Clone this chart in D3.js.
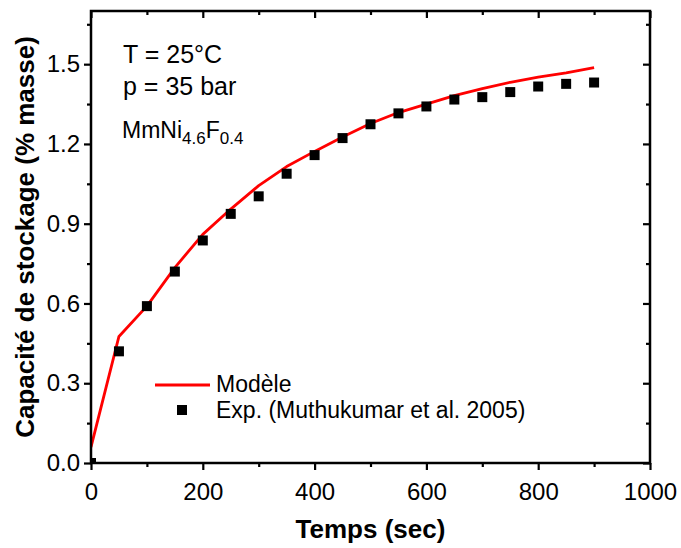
<!DOCTYPE html>
<html>
<head>
<meta charset="utf-8">
<script src="https://cdn.jsdelivr.net/npm/d3@7"></script>
<style>
    body { margin: 0; background: #fff; }
    #chart { width: 681px; height: 548px; }
    text { font-family: "Liberation Sans", Arial, sans-serif; fill: #000; }
</style>
</head>
<body>
<div id="chart"></div>
<script>
// Time axis (sec)
const modelTimes = [0, 50, 100, 150, 200, 250, 300, 350, 400, 450, 500, 550, 600, 650, 700, 750, 800, 850, 900];
// Model curve (% masse)
const modelValues = [0.06, 0.476, 0.59, 0.735, 0.86, 0.955, 1.043, 1.115, 1.172, 1.226, 1.277, 1.318, 1.35, 1.382, 1.408, 1.432, 1.451, 1.467, 1.487];

// Experimental points (Muthukumar et al. 2005)
const expTimes = [0, 50, 100, 150, 200, 250, 300, 350, 400, 450, 500, 550, 600, 650, 700, 750, 800, 850, 900];
const expValues = [0, 0.42, 0.59, 0.72, 0.837, 0.937, 1.003, 1.088, 1.158, 1.222, 1.274, 1.315, 1.341, 1.367, 1.376, 1.395, 1.416, 1.426, 1.431];

// Ticks
const xTicks = [0, 200, 400, 600, 800, 1000];
const xMinorTicks = [100, 300, 500, 700, 900];
const yTicks = [0.0, 0.3, 0.6, 0.9, 1.2, 1.5];
const yMinorTicks = [0.15, 0.45, 0.75, 1.05, 1.35, 1.65];

function createChart(selector) {
    const width = 681;
    const height = 548;
    const margin = { top: 11, right: 31, bottom: 85, left: 91 };
    const innerW = width - margin.left - margin.right;
    const innerH = height - margin.top - margin.bottom;

    const svg = d3.select(selector)
        .append("svg")
        .attr("width", width)
        .attr("height", height);

    const g = svg.append("g")
        .attr("transform", `translate(${margin.left},${margin.top})`);

    // Scales
    const x = d3.scaleLinear().domain([0, 1000]).range([0, innerW]);
    const y = d3.scaleLinear().domain([0, 1.7]).range([innerH, 0]);

    // Clip to plot area
    svg.append("clipPath").attr("id", "plot-clip")
        .append("rect").attr("width", innerW).attr("height", innerH);

    const plot = g.append("g").attr("clip-path", "url(#plot-clip)");

    // Model line
    const model = modelTimes.map((t, i) => ({ t, v: modelValues[i] }));
    plot.append("path")
        .datum(model)
        .attr("fill", "none")
        .attr("stroke", "#ff0000")
        .attr("stroke-width", 2.8)
        .attr("stroke-linejoin", "round")
        .attr("d", d3.line().x(d => x(d.t)).y(d => y(d.v)));

    // Experimental squares
    const exp = expTimes.map((t, i) => ({ t, v: expValues[i] }));
    const square = d3.symbol().type(d3.symbolSquare).size(100);
    plot.selectAll(".exp")
        .data(exp)
        .enter()
        .append("path")
        .attr("class", "exp")
        .attr("d", square)
        .attr("fill", "#000")
        .attr("transform", d => `translate(${x(d.t)},${y(d.v)})`);

    // Axes helper
    function styleAxis(sel) {
        sel.select(".domain").remove();
        sel.selectAll("line").attr("stroke", "#000").attr("stroke-width", 2.2);
        sel.selectAll("text").style("font-size", "24px").attr("fill", "#000");
    }

    // Bottom axis (outward ticks)
    g.append("g")
        .attr("transform", `translate(0,${innerH})`)
        .call(d3.axisBottom(x).tickValues(xTicks).tickSize(7).tickPadding(13).tickFormat(d3.format("d")))
        .call(styleAxis);
    g.append("g")
        .attr("transform", `translate(0,${innerH})`)
        .call(d3.axisBottom(x).tickValues(xMinorTicks).tickSize(4).tickFormat(""))
        .call(styleAxis);

    // Left axis (outward ticks)
    g.append("g")
        .call(d3.axisLeft(y).tickValues(yTicks).tickSize(7).tickPadding(4).tickFormat(d3.format(".1f")))
        .call(styleAxis);
    g.append("g")
        .call(d3.axisLeft(y).tickValues(yMinorTicks).tickSize(4).tickFormat(""))
        .call(styleAxis);

    // Top axis (inward ticks)
    g.append("g")
        .call(d3.axisTop(x).tickValues(xTicks).tickSize(-7).tickFormat(""))
        .call(styleAxis);
    g.append("g")
        .call(d3.axisTop(x).tickValues(xMinorTicks).tickSize(-4).tickFormat(""))
        .call(styleAxis);

    // Right axis (inward ticks)
    g.append("g")
        .attr("transform", `translate(${innerW},0)`)
        .call(d3.axisRight(y).tickValues(yTicks).tickSize(-7).tickFormat(""))
        .call(styleAxis);
    g.append("g")
        .attr("transform", `translate(${innerW},0)`)
        .call(d3.axisRight(y).tickValues(yMinorTicks).tickSize(-4).tickFormat(""))
        .call(styleAxis);

    // Frame
    g.append("rect")
        .attr("width", innerW)
        .attr("height", innerH)
        .attr("fill", "none")
        .attr("stroke", "#000")
        .attr("stroke-width", 2.5);

    // Axis titles
    svg.append("text")
        .attr("x", margin.left + innerW / 2)
        .attr("y", 538)
        .attr("text-anchor", "middle")
        .style("font-size", "26px")
        .style("font-weight", "bold")
        .text("Temps (sec)");

    svg.append("text")
        .attr("transform", `translate(34,${margin.top + innerH / 2}) rotate(-90)`)
        .attr("text-anchor", "middle")
        .style("font-size", "26px")
        .style("font-weight", "bold")
        .text("Capacité de stockage (% masse)");

    // Annotations
    svg.append("text").attr("x", 123).attr("y", 63)
        .style("font-size", "25px").text("T = 25°C");
    svg.append("text").attr("x", 123).attr("y", 95)
        .style("font-size", "25px").text("p = 35 bar");

    const formula = svg.append("text").attr("x", 122).attr("y", 138)
        .style("font-size", "23px");
    formula.append("tspan").text("MmNi");
    formula.append("tspan").attr("dy", 6).style("font-size", "17px").text("4.6");
    formula.append("tspan").attr("dy", -6).text("F");
    formula.append("tspan").attr("dy", 6).style("font-size", "17px").text("0.4");

    // Legend
    const legend = svg.append("g");
    legend.append("line")
        .attr("x1", 155).attr("x2", 210)
        .attr("y1", 385).attr("y2", 385)
        .attr("stroke", "#ff0000")
        .attr("stroke-width", 2.8);
    legend.append("text").attr("x", 216).attr("y", 392)
        .style("font-size", "23px").text("Modèle");
    legend.append("path")
        .attr("d", square)
        .attr("fill", "#000")
        .attr("transform", "translate(182,410)");
    legend.append("text").attr("x", 216).attr("y", 418)
        .style("font-size", "23px").text("Exp. (Muthukumar et al. 2005)");
}

createChart("#chart");
</script>
</body>
</html>
